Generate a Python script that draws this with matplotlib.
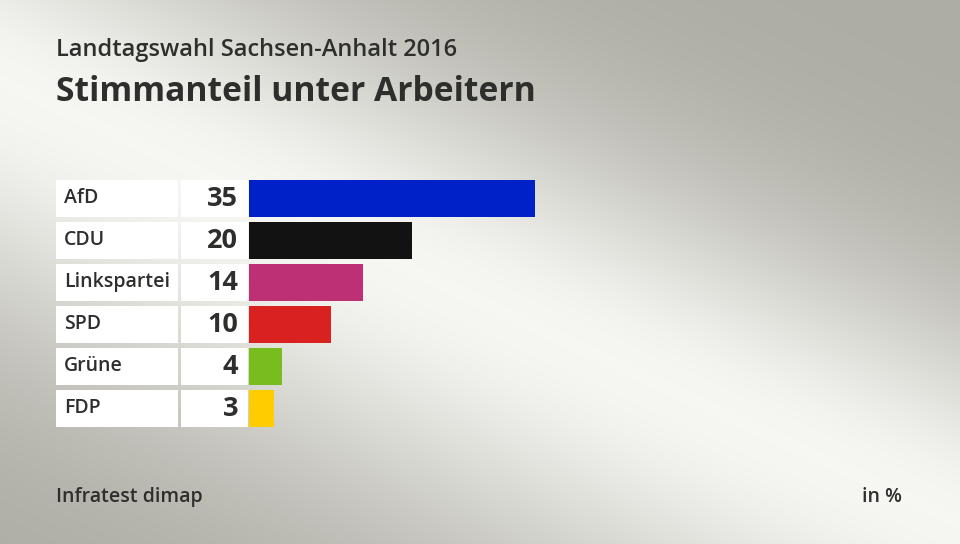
import numpy as np
import matplotlib.pyplot as plt
from matplotlib.patches import Rectangle

parties = ["AfD", "CDU", "Linkspartei", "SPD", "Grüne", "FDP"]
values = [35, 20, 14, 10, 4, 3]
colors = ["#0021c8", "#121212", "#be3075", "#d92120", "#78bc1e", "#ffcc00"]

title_top = "Landtagswahl Sachsen-Anhalt 2016"
title_main = "Stimmanteil unter Arbeitern"
source = "Infratest dimap"
unit = "in %"

plt.rcParams['font.family'] = ['Open Sans', 'DejaVu Sans']

W, H = 960, 544
fig = plt.figure(figsize=(W / 100, H / 100), dpi=100)

# background: grey with a light diagonal band
bg = fig.add_axes([0, 0, 1, 1])
yy, xx = np.mgrid[0:H, 0:W].astype(float)
slope, y0 = 0.46, 80.0
d = (yy - (y0 + slope * xx)) / np.sqrt(1 + slope ** 2)
sig = np.where(d < 0, 190.0, 230.0)
light = np.exp(-(d / sig) ** 2)[..., None]
dark = np.array([0.682, 0.678, 0.647])
bright = np.array([0.965, 0.965, 0.950])
img = dark + (bright - dark) * light
bg.imshow(img, extent=[0, W, H, 0], aspect='auto')
bg.set_xlim(0, W)
bg.set_ylim(H, 0)
bg.axis('off')

txt = '#2e2e2c'
bg.text(56, 50, title_top, fontsize=17, fontweight='semibold', color=txt, va='center')
bg.text(56, 92, title_main, fontsize=24.2, fontweight='bold', color=txt, va='center')
bg.text(56, 497, source, fontsize=14, fontweight='semibold', color=txt, va='center')
bg.text(902, 497, unit, fontsize=14, fontweight='semibold', color=txt, va='center', ha='right')

row0, pitch, rh = 198, 42, 37
for i, (p, v) in enumerate(zip(parties, values)):
    yc = row0 + i * pitch
    bg.add_patch(Rectangle((56, yc - rh / 2), 122, rh, facecolor='white', edgecolor='none'))
    bg.add_patch(Rectangle((181, yc - rh / 2), 67, rh, facecolor='white', edgecolor='none'))
    bg.text(64, yc, p, fontsize=14, fontweight='semibold', color=txt, va='center')
    bg.text(238, yc + 1, str(v), fontsize=19.5, fontweight='bold', color=txt, va='center', ha='right')

# bars
ax = fig.add_axes([249 / W, (H - 429) / H, (535 - 249) / W, 252 / H])
ax.barh(range(len(values)), values, height=rh / pitch, color=colors)
ax.set_xlim(0, 35)
ax.set_ylim(5.5, -0.5)
ax.axis('off')
ax.patch.set_alpha(0)

plt.savefig('out.png', dpi=100)
